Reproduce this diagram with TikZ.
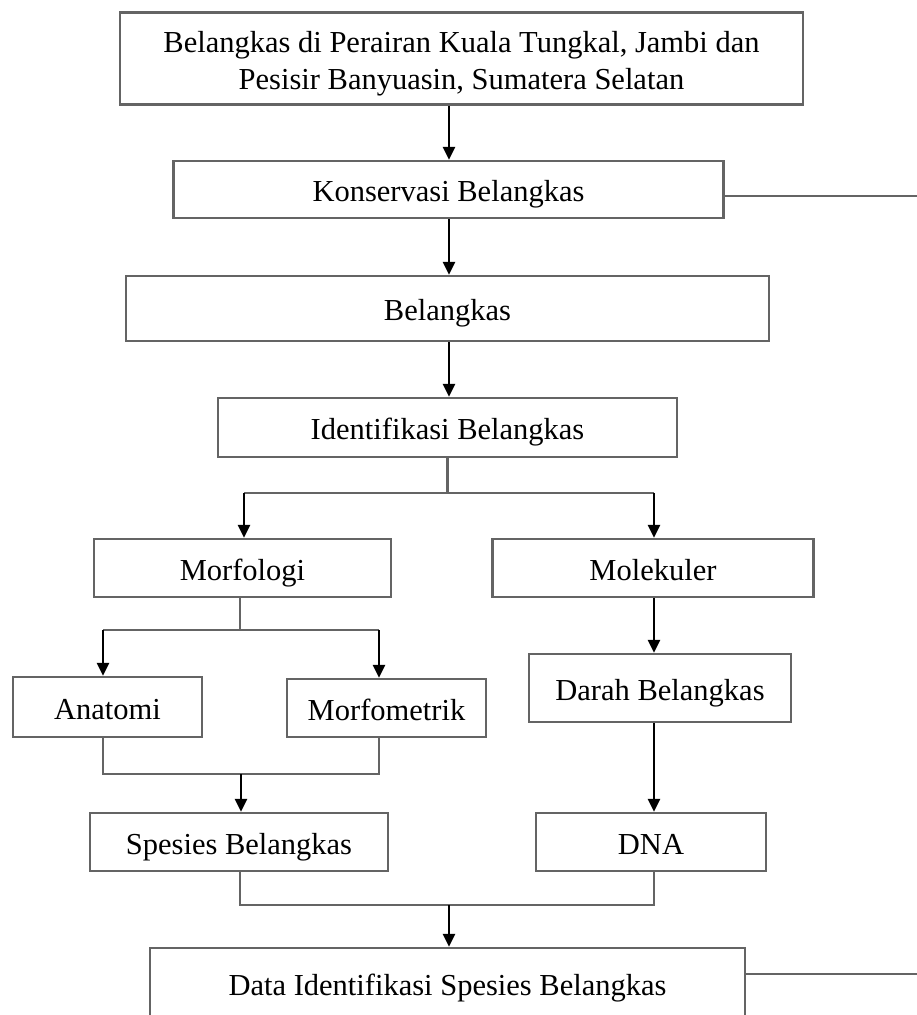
\documentclass[tikz,border=0pt]{standalone}
\usepackage{fontspec}
\setmainfont{Liberation Serif}
\usetikzlibrary{arrows.meta}
\definecolor{boxgray}{RGB}{100,100,100}
\begin{document}
\begin{tikzpicture}[x=1pt,y=-1pt,
  box/.style={draw=boxgray, line width=2.3pt, rectangle, inner sep=0pt, text height=24pt, text depth=0pt, font=\fontsize{30.5}{37}\selectfont, align=center},
  link/.style={draw=boxgray, line width=2.3pt},
  arr/.style={draw=black, line width=2.8pt, -{Triangle[length=13pt,width=12pt]}}]
\clip (0,0) rectangle (917,1015);
\useasboundingbox (0,0) rectangle (917,1015);
\fill[white] (0,0) rectangle (917,1015);

\node[box, text height=61pt, minimum width=683pt, minimum height=92pt] (top) at (461.5,58.5) {Belangkas di Perairan Kuala Tungkal, Jambi dan\\Pesisir Banyuasin, Sumatera Selatan};
\node[box, minimum width=550pt, minimum height=57pt] (kons) at (448.5,189.5) {Konservasi Belangkas};
\node[box, minimum width=643pt, minimum height=65pt] (bel) at (447.5,308.5) {Belangkas};
\node[box, minimum width=459pt, minimum height=59pt] (ident) at (447.5,427.5) {Identifikasi Belangkas};
\node[box, minimum width=297pt, minimum height=58pt] (morf) at (242.5,568) {Morfologi};
\node[box, minimum width=321pt, minimum height=58pt] (mol) at (653,568) {Molekuler};
\node[box, minimum width=189pt, minimum height=60pt] (anat) at (107.5,707) {Anatomi};
\node[box, minimum width=199pt, minimum height=58pt] (morfo) at (386.5,708) {Morfometrik};
\node[box, minimum width=262pt, minimum height=68pt] (darah) at (660,688) {Darah Belangkas};
\node[box, minimum width=298pt, minimum height=58pt] (spes) at (239,842) {Spesies Belangkas};
\node[box, minimum width=230pt, minimum height=58pt] (dna) at (651,842) {DNA};
\node[box, minimum width=595pt, minimum height=70pt] (data) at (447.5,983) {Data Identifikasi Spesies Belangkas};

% side lines
\coordinate (konsR) at (917,196);
\coordinate (dataR) at (917,974);
\draw[link] (kons.east |- konsR) -- (konsR);
\draw[link] (data.east |- dataR) -- (dataR);

% main column
\coordinate (c1) at (449,0);
\draw[arr] (c1 |- top.south) -- (c1 |- kons.north);
\draw[arr] (c1 |- kons.south) -- (c1 |- bel.north);
\draw[arr] (c1 |- bel.south) -- (c1 |- ident.north);

% split after identifikasi
\coordinate (s1) at (447.5,493);
\coordinate (s1L) at (244,493);
\coordinate (s1R) at (654,493);
\draw[link] (ident.south) -- (s1);
\draw[link] (s1L) -- (s1R);
\draw[arr] (s1L) -- (s1L |- morf.north);
\draw[arr] (s1R) -- (s1R |- mol.north);

% split after morfologi
\coordinate (s2) at (240,630);
\coordinate (s2L) at (103,630);
\coordinate (s2R) at (379,630);
\draw[link] (s2 |- morf.south) -- (s2);
\draw[link] (s2L) -- (s2R);
\draw[arr] (s2L) -- (s2L |- anat.north);
\draw[arr] (s2R) -- (s2R |- morfo.north);

% molekuler column
\draw[arr] (s1R |- mol.south) -- (s1R |- darah.north);
\draw[arr] (s1R |- darah.south) -- (s1R |- dna.north);

% merge anatomi + morfometrik
\coordinate (m1L) at (103,774);
\coordinate (m1R) at (379,774);
\coordinate (m1) at (241,774);
\draw[link] (m1L |- anat.south) -- (m1L) -- (m1R) -- (m1R |- morfo.south);
\draw[arr] (m1) -- (m1 |- spes.north);

% merge spesies + dna
\coordinate (m2L) at (240,905);
\coordinate (m2R) at (654,905);
\coordinate (m2) at (449,905);
\draw[link] (m2L |- spes.south) -- (m2L) -- (m2R) -- (m2R |- dna.south);
\draw[arr] (m2) -- (m2 |- data.north);
\end{tikzpicture}
\end{document}
